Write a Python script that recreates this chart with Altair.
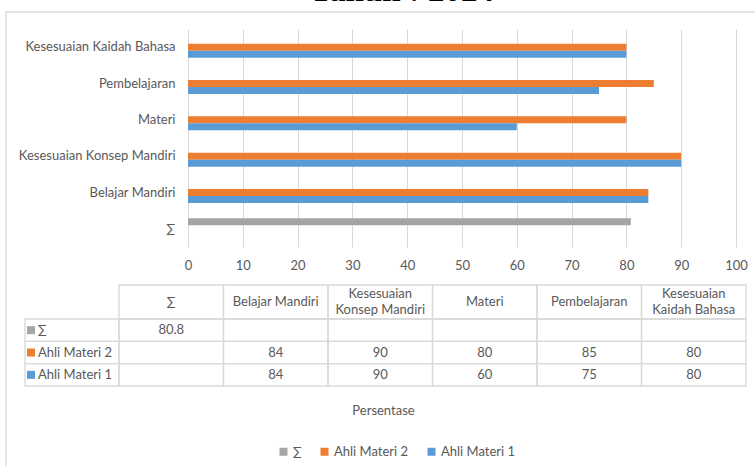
import altair as alt
import pandas as pd

# Aspek penilaian dan nilai tiap ahli (persen)
aspek = ["Belajar Mandiri", "Kesesuaian Konsep Mandiri", "Materi", "Pembelajaran", "Kesesuaian Kaidah Bahasa"]
ahli_materi_1 = [84, 90, 60, 75, 80]
ahli_materi_2 = [84, 90, 80, 85, 80]
rata_rata = 80.8

seri = ["∑", "Ahli Materi 2", "Ahli Materi 1"]
warna = ["#A5A5A5", "#ED7D31", "#5B9BD5"]
sumbu_y = ["Kesesuaian Kaidah Bahasa", "Pembelajaran", "Materi", "Kesesuaian Konsep Mandiri", "Belajar Mandiri", "∑"]
kolom_tabel = ["∑"] + aspek
judul_kolom = {
    "Kesesuaian Konsep Mandiri": "Kesesuaian\nKonsep Mandiri",
    "Kesesuaian Kaidah Bahasa": "Kesesuaian\nKaidah Bahasa",
}
nilai_x = list(range(0, 101, 10))

FONT = "Lato"
ABU = "#595959"
GARIS = "#D9D9D9"

rows = [{"kategori": "∑", "seri": "∑", "nilai": rata_rata}]
for a, v2, v1 in zip(aspek, ahli_materi_2, ahli_materi_1):
    rows.append({"kategori": a, "seri": "Ahli Materi 2", "nilai": v2})
    rows.append({"kategori": a, "seri": "Ahli Materi 1", "nilai": v1})
bars_df = pd.DataFrame(rows)

# Isi tabel data di bawah grafik
cells = []
for k in kolom_tabel:
    for s in seri:
        cells.append({"kolom": k, "seri": s})
cells_df = pd.DataFrame(cells)
teks_df = pd.DataFrame(
    [{"kolom": r["kategori"], "seri": r["seri"], "teks": f"{r['nilai']:g}"} for r in rows]
)
header_df = pd.DataFrame(
    [{"kolom": k, "judul": judul_kolom.get(k, k), "dua_baris": k in judul_kolom} for k in kolom_tabel]
)
seri_df = pd.DataFrame({"seri": seri})

color = alt.Color(
    "seri:N",
    scale=alt.Scale(domain=seri, range=warna),
    legend=alt.Legend(
        title=None, orient="none", direction="horizontal", legendX=89, legendY=416,
        symbolType="square", symbolSize=64, symbolStrokeWidth=0, labelFont=FONT,
        labelFontSize=13, labelColor=ABU, columnPadding=16, labelOffset=3,
    ),
)

bars = alt.Chart(bars_df).mark_bar().encode(
    x=alt.X(
        "nilai:Q",
        scale=alt.Scale(domain=[0, 100], nice=False),
        axis=alt.Axis(
            values=nilai_x, title="Persentase", grid=True, gridColor=GARIS, domain=False,
            ticks=False, labelFlush=False, labelPadding=12, labelFont=FONT, labelFontSize=13,
            labelColor=ABU, titleFont=FONT, titleFontSize=13, titleColor=ABU,
            titleFontWeight="normal", titleX=195, titleY=163, titleBaseline="middle",
            titleAlign="center",
        ),
    ),
    y=alt.Y(
        "kategori:N",
        sort=sumbu_y,
        scale=alt.Scale(domain=sumbu_y, paddingInner=0.42, paddingOuter=0.21),
        axis=alt.Axis(
            title=None, domain=False, ticks=False, labelPadding=13, labelFont=FONT,
            labelFontSize=13, labelColor=ABU,
        ),
    ),
    yOffset=alt.YOffset("seri:N", scale=alt.Scale(domain=seri, paddingInner=0, paddingOuter=0)),
    color=color,
)

tx = alt.X("kolom:N", scale=alt.Scale(domain=kolom_tabel, range=[-69, 558], paddingInner=0, paddingOuter=0), axis=None)
ty = alt.Y("seri:N", scale=alt.Scale(domain=seri, range=[290, 357], paddingInner=0, paddingOuter=0), axis=None)

sel_tabel = alt.Chart(cells_df).mark_rect(fill=None, stroke=GARIS, strokeWidth=1.3).encode(x=tx, y=ty)
sel_header = alt.Chart(header_df).mark_rect(fill=None, stroke=GARIS, strokeWidth=1.3).encode(
    x=tx, y=alt.value(256), y2=alt.value(290)
)
sel_legenda = alt.Chart(seri_df).mark_rect(fill=None, stroke=GARIS, strokeWidth=1.3).encode(
    x=alt.value(-163), x2=alt.value(-69), y=ty
)
header_base = alt.Chart(header_df).mark_text(
    font=FONT, fontSize=13, color=ABU, lineBreak="\n", lineHeight=16, baseline="middle"
)
teks_header_1 = header_base.transform_filter("!datum.dua_baris").encode(
    x=tx, y=alt.value(273), text="judul:N"
)
teks_header_2 = header_base.transform_filter("datum.dua_baris").encode(
    x=tx, y=alt.value(265), text="judul:N"
)
teks_nilai = alt.Chart(teks_df).mark_text(
    font=FONT, fontSize=13, color=ABU, baseline="middle"
).encode(x=tx, y=ty, text="teks:N")
kotak = alt.Chart(seri_df).mark_square(size=64, opacity=1).encode(
    x=alt.value(-157), y=ty, color=alt.Color("seri:N", scale=alt.Scale(domain=seri, range=warna), legend=None)
)
label_baris = alt.Chart(seri_df).mark_text(
    font=FONT, fontSize=13, color=ABU, align="left", baseline="middle"
).encode(x=alt.value(-150), y=ty, text="seri:N")

bingkai = alt.Chart(pd.DataFrame({"a": [0]})).mark_rect(fill=None, stroke=GARIS, strokeWidth=1.3).encode(
    x=alt.value(-182), x2=alt.value(600), y=alt.value(-17), y2=alt.value(470)
)
judul = alt.Chart(pd.DataFrame({"t": ["Tahun : 2024"]})).mark_text(
    font="Liberation Serif", fontSize=33, fontWeight="bold", color="#000000",
    align="left", baseline="alphabetic",
).encode(x=alt.value(122), y=alt.value(-28), text="t:N")

chart = (
    alt.layer(
        bingkai, judul, bars, sel_tabel, sel_header, sel_legenda,
        teks_header_1, teks_header_2, teks_nilai, kotak, label_baris,
    )
    .resolve_scale(x="independent", y="independent")
    .properties(
        width=548, height=218,
        autosize=alt.AutoSizeParams(type="none"),
        padding={"left": 188, "top": 29, "right": 19, "bottom": 219},
        background="white",
    )
    .configure_view(stroke=None)
)

chart.save("out.html", embed_options={"renderer": "svg", "actions": False})
